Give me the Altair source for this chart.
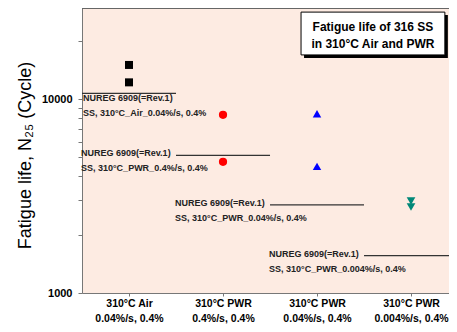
import json
import altair as alt
import pandas as pd

# ---------------- data ----------------
cat_pos = [1, 2, 3, 4]
cat_line1 = ["310°C Air", "310°C PWR", "310°C PWR", "310°C PWR"]
cat_line2 = ["0.04%/s, 0.4%", "0.4%/s, 0.4%", "0.04%/s, 0.4%", "0.004%/s, 0.4%"]

series_names = ["Air 0.04%/s", "PWR 0.4%/s", "PWR 0.04%/s", "PWR 0.004%/s"]
series_values = [
    [15000, 12200],   # 310C Air 0.04%/s
    [8300, 4750],     # 310C PWR 0.4%/s
    [8400, 4500],     # 310C PWR 0.04%/s
    [2980, 2780],     # 310C PWR 0.004%/s
]
series_colors = ["#000000", "#FF0000", "#0000FF", "#008878"]
series_shapes = ["square", "circle", "triangle-up", "triangle-down"]
series_sizes = [64, 75, 95, 95]

nureg_values = [10700, 5130, 2850, 1560]
nureg_line1 = ["NUREG 6909(=Rev.1)"] * 4
nureg_line2 = [
    "SS, 310°C_Air_0.04%/s, 0.4%",
    "SS, 310°C_PWR_0.4%/s, 0.4%",
    "SS, 310°C_PWR_0.04%/s, 0.4%",
    "SS, 310°C_PWR_0.004%/s, 0.4%",
]

box_lines = ["Fatigue life of 316 SS", "in 310°C Air and PWR"]
y_ticks = [1000, 2000, 3000, 4000, 5000, 6000, 7000, 8000, 9000, 10000, 20000]
y_labeled = [1000, 10000]

# ---------------- tables ----------------
pts = pd.DataFrame(
    [
        {"series": s, "x": c, "y": v}
        for s, c, vals in zip(series_names, cat_pos, series_values)
        for v in vals
    ]
)
rules = pd.DataFrame(
    {"x": [c - 0.5 for c in cat_pos], "x1": [c + 0.5 for c in cat_pos], "y": nureg_values}
)
lab_first = pd.DataFrame(
    {"x": [cat_pos[0] - 0.5], "y": [nureg_values[0]],
     "t": [[nureg_line1[0], nureg_line2[0]]]}
)
lab_rest = pd.DataFrame(
    {"x": [c - 1.5 for c in cat_pos[1:]], "y": nureg_values[1:],
     "t": [[a, b] for a, b in zip(nureg_line1[1:], nureg_line2[1:])]}
)
box = pd.DataFrame({"x": [2.83], "x1": [4.36], "y": [28100], "y1": [16900]})
box_txt = pd.DataFrame({"x": [3.595], "y": [23600], "t": [box_lines]})

# ---------------- scales / axes ----------------
FONT = "Liberation Sans"
xscale = alt.Scale(domain=[0.5, 4.404], nice=False, zero=False)
yscale = alt.Scale(type="log", domain=[1000, 29500], nice=False)

label_arr = json.dumps([[a, b] for a, b in zip(cat_line1, cat_line2)], ensure_ascii=False)
xaxis = alt.Axis(
    values=cat_pos, title=None, grid=False,
    labelExpr=f"{label_arr}[datum.value - 1]",
    labelFont=FONT, labelFontSize=10.5, labelFontWeight="bold", labelColor="#000",
    labelLineHeight=15, labelPadding=2, labelFlush=False,
    tickSize=3, tickColor="#777", domainColor="#777",
)
labeled_test = " || ".join(f"datum.value == {v}" for v in y_labeled)
yaxis = alt.Axis(
    values=y_ticks, title="Fatigue life, N₂₅ (Cycle)", grid=False, format="d",
    labelExpr=f"({labeled_test}) ? datum.label : ''",
    labelFont=FONT, labelFontSize=11, labelFontWeight="bold", labelColor="#000",
    labelPadding=6, tickSize=4, tickColor="#777", domainColor="#777",
    titleFont=FONT, titleFontSize=18, titleFontWeight="normal", titleColor="#000",
    titleX=-57, titleY=147, titleBaseline="middle", titleAlign="center", titleAngle=270,
)


def X(f="x"):
    return alt.X(f, type="quantitative", scale=xscale, axis=xaxis)


def Y(f="y"):
    return alt.Y(f, type="quantitative", scale=yscale, axis=yaxis)


frame_top = alt.Chart(pts).mark_rule(color="#666666", strokeWidth=1).encode(
    x=alt.value(0), x2=alt.value("width"), y=alt.value(0)
)
rule_layer = alt.Chart(rules).mark_rule(color="#333333", strokeWidth=1.3).encode(
    x=X(), x2="x1", y=Y()
)
first_txt = alt.Chart(lab_first).mark_text(
    align="left", baseline="top", dx=1, dy=1, font=FONT, fontSize=9,
    fontWeight="bold", lineHeight=15, color="#222"
).encode(x=X(), y=Y(), text="t")
rest_txt = alt.Chart(lab_rest).mark_text(
    align="left", baseline="top", dx=-1, dy=-6, font=FONT, fontSize=9,
    fontWeight="bold", lineHeight=15, color="#222"
).encode(x=X(), y=Y(), text="t")
point_layer = alt.Chart(pts).mark_point(filled=True, opacity=1).encode(
    x=X(), y=Y(),
    color=alt.Color("series:N", scale=alt.Scale(domain=series_names, range=series_colors), legend=None),
    shape=alt.Shape("series:N", scale=alt.Scale(domain=series_names, range=series_shapes), legend=None),
    size=alt.Size("series:N", scale=alt.Scale(domain=series_names, range=series_sizes), legend=None),
)
shadow = alt.Chart(box).mark_rect(
    color="#000", xOffset=3, x2Offset=3, yOffset=3, y2Offset=3
).encode(x=X(), x2="x1", y=Y(), y2="y1")
box_rect = alt.Chart(box).mark_rect(fill="#FFFFFF", stroke="#000", strokeWidth=1).encode(
    x=X(), x2="x1", y=Y(), y2="y1"
)
box_text = alt.Chart(box_txt).mark_text(
    align="center", baseline="middle", font=FONT, fontSize=12, fontWeight="bold",
    lineHeight=17, color="#000"
).encode(x=X(), y=Y(), text="t")

chart = (
    alt.layer(frame_top, rule_layer, first_txt, rest_txt, point_layer, shadow, box_rect, box_text)
    .properties(
        width=367, height=285,
        padding={"left": 74, "top": 0, "right": 0, "bottom": 31},
        autosize=alt.AutoSizeParams(type="none"),
        background="#FFFFFF",
    )
    .configure_view(fill="#FDEBE2", strokeWidth=0)
)

chart.save("out.html", embed_options={"renderer": "svg", "actions": False})
